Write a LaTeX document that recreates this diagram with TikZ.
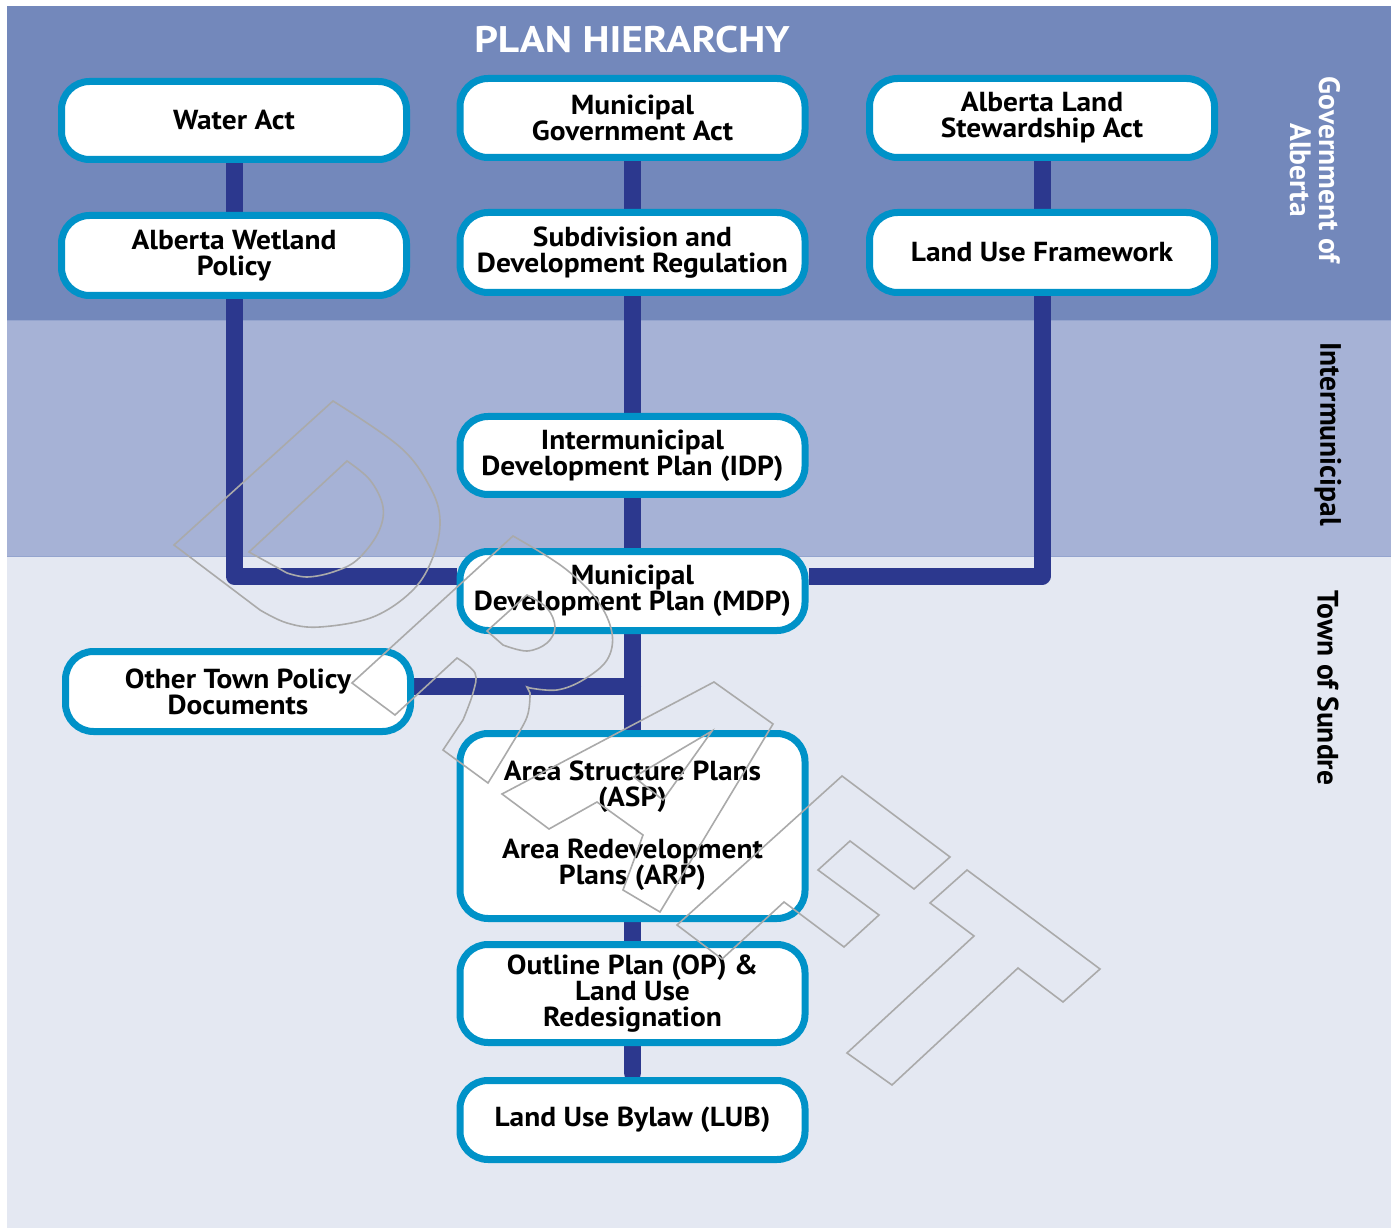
\documentclass[tikz,border=0pt]{standalone}
\usepackage{fontspec}
\setmainfont{PT Sans}
\newfontfamily\wideft{PT Sans}[FakeStretch=1.07]
\newfontfamily\titleft{PT Sans}[FakeStretch=1.12]
\definecolor{bandtop}{HTML}{7388BB}
\definecolor{bandmid}{HTML}{A6B2D6}
\definecolor{bandlow}{HTML}{E4E8F2}
\definecolor{bandline}{HTML}{94A4CE}
\definecolor{boxblue}{HTML}{0092C8}
\definecolor{navy}{HTML}{2C388E}
\definecolor{wmgray}{HTML}{AAAAAA}
\newcommand\myboxfont{\wideft\fontsize{27.5}{26}\selectfont\bfseries}
\newcommand\mysidefont{\fontsize{29.5}{29}\selectfont\bfseries}
\pgfdeclarelayer{bands}
\pgfdeclarelayer{links}
\pgfsetlayers{bands,links,main}
\begin{document}
\begin{tikzpicture}[x=1pt,y=-1pt,
  box/.style={draw=boxblue, line width=7pt, fill=white, rounded corners=28pt,
    minimum width=345pt, align=center, font=\myboxfont, inner sep=0pt},
  link/.style={draw=navy, line width=17pt, line join=round},
  wm/.style={draw=wmgray, line width=1.6pt, line join=miter},
  side/.style={rotate=-90, align=center, font=\mysidefont, inner sep=0pt}]
\useasboundingbox (0,0) rectangle (1393,1230);
% title and side labels
\node[text=white, font=\titleft\fontsize{37}{40}\selectfont\bfseries] (title) at (632,40) {PLAN HIERARCHY};
\node[side, text=white] (gov) at (1315,170) {Government of\\Alberta};
\node[side, text=black] (inter) at (1328,434) {Intermunicipal};
\node[side, text=black] (town) at (1328,688) {Town of Sundre};
% boxes
\node[box, minimum height=78pt] (water) at (234,120.5) {Water Act};
\node[box, minimum height=80pt] (wetland) at (234,255.5) {Alberta Wetland\\Policy};
\node[box, minimum height=79pt] (mga) at (632.5,118) {Municipal\\Government Act};
\node[box, minimum height=80pt] (sdr) at (632.5,252.5) {Subdivision and\\Development Regulation};
\node[box, minimum height=79pt] (alsa) at (1042,118) {Alberta Land\\Stewardship Act};
\node[box, minimum height=80pt] (luf) at (1042,252.5) {Land Use Framework};
\node[box, minimum height=78pt] (idp) at (632.5,455.5) {Intermunicipal\\Development Plan (IDP)};
\node[box, minimum height=79pt] (mdp) at (632.5,591) {Municipal\\Development Plan (MDP)};
\node[box, minimum height=80pt] (other) at (238,691.5) {Other Town Policy\\Documents};
\node[box, minimum height=185pt] (asp) at (632.5,826) {Area Structure Plans\\(ASP)\\[26pt]Area Redevelopment\\Plans (ARP)};
\node[box, minimum height=98pt] (op) at (632.5,993.5) {Outline Plan (OP) \&\\Land Use\\Redesignation};
\node[box, minimum height=79pt] (lub) at (632.5,1120) {Land Use Bylaw (LUB)};
\coordinate (otherjoin) at (632.5,686);
% background bands
\begin{pgfonlayer}{bands}
\fill[white] (0,0) rectangle (1393,1230);
\fill[bandtop] (7,6) rectangle (1391,320);
\fill[bandmid] (7,320) rectangle (1391,556);
\fill[bandlow] (7,556) rectangle (1391,1228);
\draw[bandline, line width=1pt] (7,320.5) -- (1391,320.5);
\draw[bandline, line width=1pt] (7,556.5) -- (1391,556.5);
\end{pgfonlayer}
% connectors
\begin{pgfonlayer}{links}
\draw[link] (water) -- (wetland);
\draw[link] (wetland.south) |- ([yshift=15pt]mdp.west);
\draw[link] (alsa) -- (luf);
\draw[link] (luf.south) |- ([yshift=15pt]mdp.east);
\draw[link] (mga) -- (sdr);
\draw[link] (sdr) -- (idp);
\draw[link] (idp) -- (mdp);
\draw[link] (mdp) -- (asp);
\draw[link] (asp) -- (op);
\draw[link, line cap=round] (op.south) -- ([yshift=4pt]lub.north);
\draw[link, line cap=round] (other.east |- otherjoin) -- (otherjoin);
\end{pgfonlayer}
% DRAFT watermark
\draw[wm] (174,545) -- plot[smooth, tension=0.6] coordinates {(333,401) (400,447) (430,487) (440,520) (433,557) (413,590) (373,617) (320,627) (287,623) (260,610)} -- cycle;
\draw[wm] (249,552) -- plot[smooth, tension=0.6] coordinates {(347,461) (370,480) (383,507) (378,533) (357,560) (333,572) (307,577) (287,573)} -- cycle;
\draw[wm] plot[smooth, tension=0.6] coordinates {(513,536) (563,567) (597,600) (612,633) (607,660) (583,680) (557,690) (530,688)} -- (527,687) -- plot[smooth, tension=0.6] coordinates {(530,693) (527,717) (510,747) (488,783)} -- (443,750) -- plot[smooth, tension=0.6] coordinates {(463,720) (473,693) (475,673) (457,658)} -- (395,715) -- (352,683) -- cycle;
\draw[wm] (487,631) -- plot[smooth, tension=0.6] coordinates {(503,645) (527,651) (547,643) (555,627) (547,608) (527,595)} -- cycle;
\draw[wm] (714,682) -- (773,724) -- (660,912) -- (623,890) -- (643,835) -- (597,802) -- (549,829) -- (502,794) -- cycle;
\draw[wm] (712,731) -- (634,777) -- (663,800) -- cycle;
\draw[wm] (842,776) -- (950,857) -- (914,889) -- (850,841) -- (818,870) -- (879,915) -- (844,947) -- (784,902) -- (722,959) -- (677,925) -- cycle;
\draw[wm] (967,870) -- (1100,969) -- (1063,1002) -- (1018,968) -- (892,1085) -- (847,1053) -- (974,936) -- (930,903) -- cycle;
\end{tikzpicture}
\end{document}
